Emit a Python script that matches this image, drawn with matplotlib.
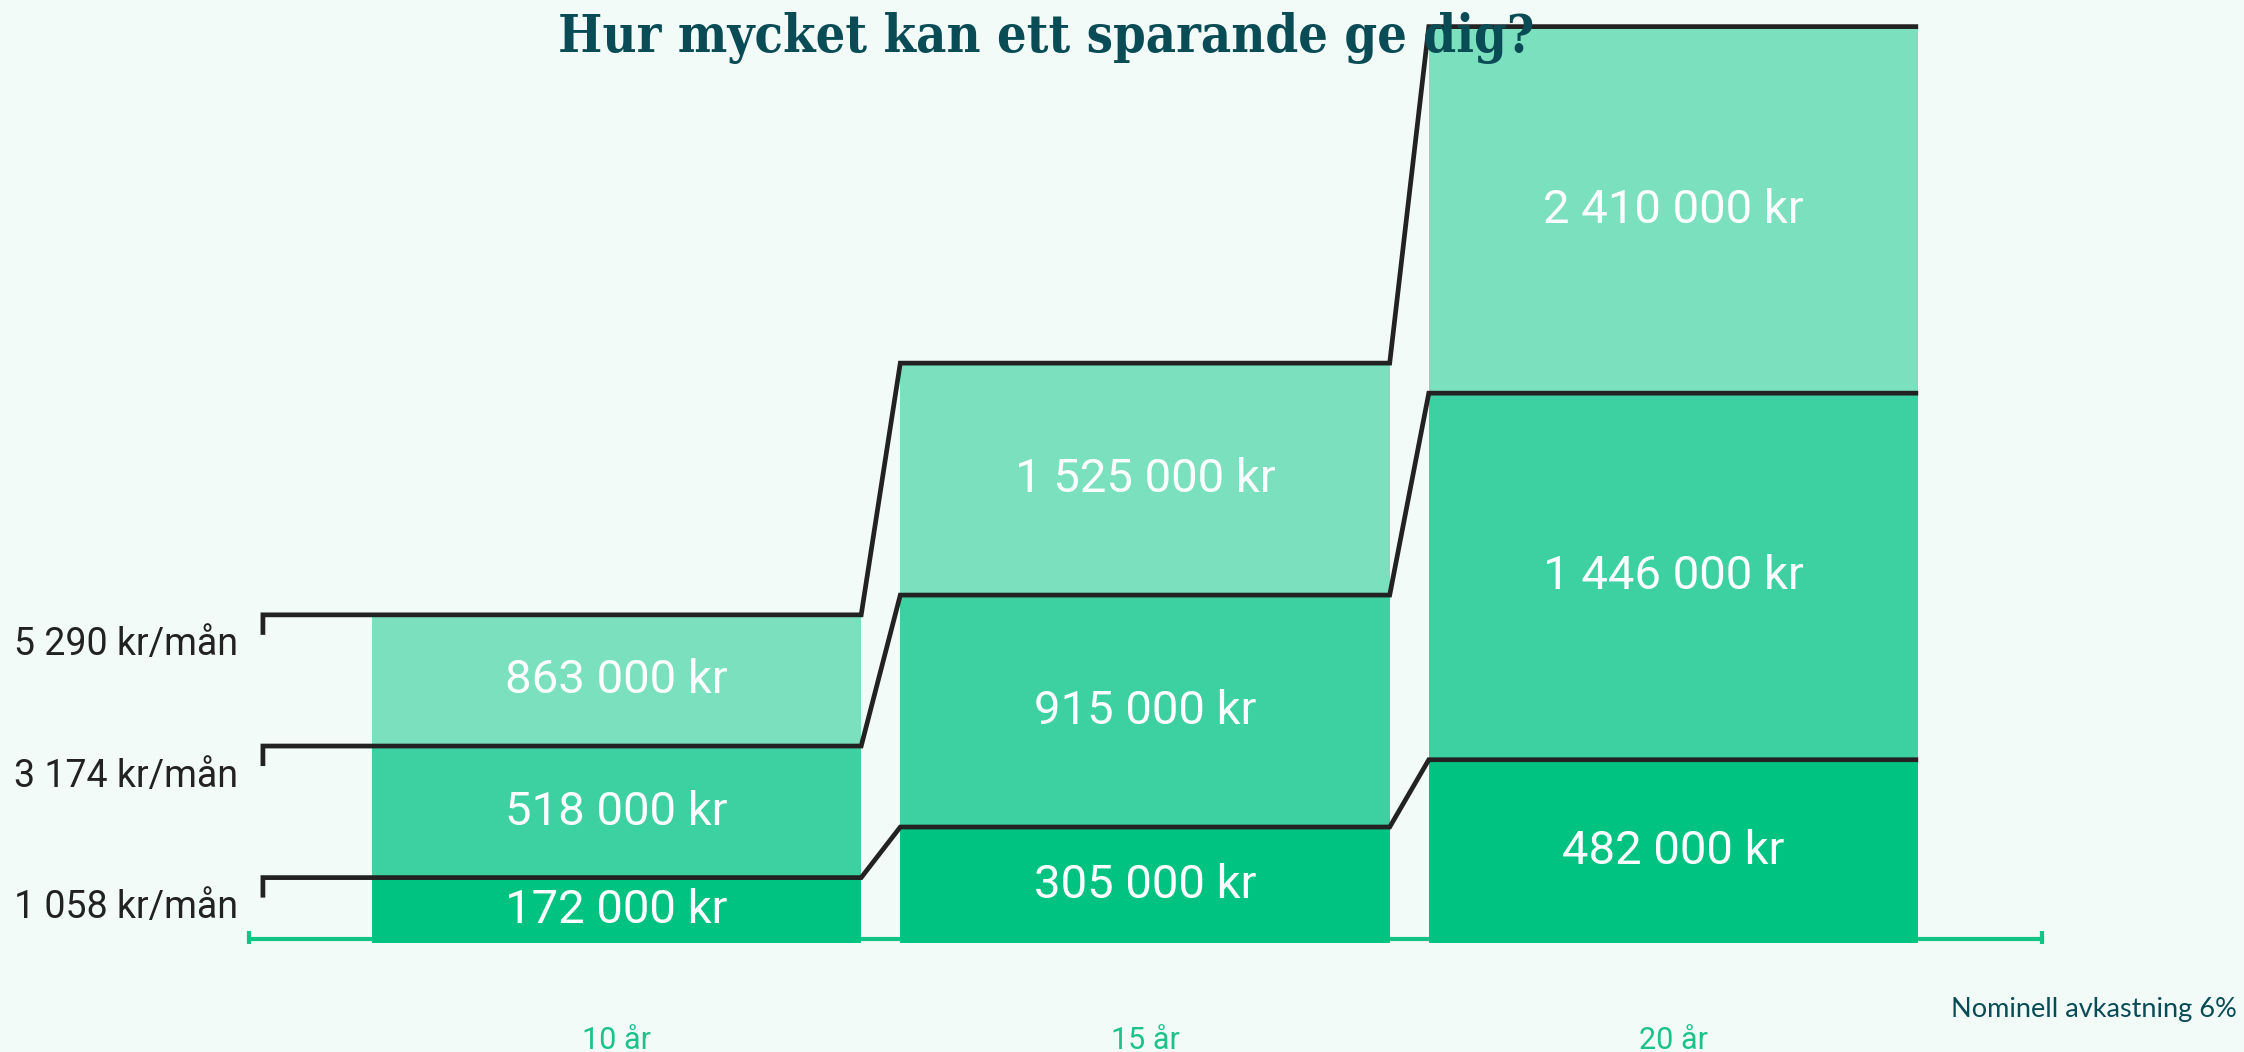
import matplotlib.pyplot as plt
import matplotlib.transforms as mtransforms
import numpy as np

# Данные
years = ['10 år', '15 år', '20 år']
monthly = ['1 058 kr/mån', '3 174 kr/mån', '5 290 kr/mån']
low = [172000, 305000, 482000]
mid = [518000, 915000, 1446000]
high = [863000, 1525000, 2410000]
note = 'Nominell avkastning 6%'
title = 'Hur mycket kan ett sparande ge dig?'

# Цвета
bg = '#f2fbf8'
colors = ['#00c382', '#3dd0a0', '#7be0be']
line_col = '#222222'
teal = '#0a4c55'


def fmt(v):
    return f'{v:,}'.replace(',', ' ') + ' kr'


fig = plt.figure(figsize=(22.44, 10.52), dpi=100, facecolor=bg)
ax = fig.add_axes([0, 109 / 1052, 1, 943 / 1052])
ax.set_facecolor(bg)

x = np.arange(len(years))
width = 0.926
ymax = 2480000
px = ymax / 943  # одна точка экрана в единицах данных

ax.set_xlim(-1.1665, 3.0795)
ax.set_ylim(0, ymax)

# Столбцы: сначала самые высокие, потом ниже поверх
series = [high, mid, low]
for vals, c in zip(series, colors[::-1]):
    ax.bar(x, vals, width=width, color=c, zorder=2)

# Подписи внутри сегментов
for i in range(len(years)):
    bounds = [0, low[i], mid[i], high[i]]
    for j in range(3):
        yc = (bounds[j] + bounds[j + 1]) / 2
        ax.text(x[i], yc, fmt(bounds[j + 1]), color='white', fontsize=34,
                family='Roboto', ha='center', va='center', zorder=5)

# Ступенчатые линии
x_start = x[0] - width / 2 - 0.206
for vals in [low, mid, high]:
    xs = [x_start, x_start]
    ys = [vals[0] - 20 * px, vals[0]]
    for i in range(len(years)):
        xs += [x[i] - width / 2, x[i] + width / 2]
        ys += [vals[i], vals[i]]
    xs[2] = x_start  # горизонталь начинается от засечки
    ax.plot(xs, ys, color=line_col, lw=3.4, solid_joinstyle='miter',
            solid_capstyle='butt', zorder=4)

# Подписи слева (под линией уровня)
label_tf = mtransforms.blended_transform_factory(fig.transFigure, ax.transData)
for lab, vals in zip(monthly, [low, mid, high]):
    ax.text(14 / 2244, vals[0] - 30 * px, lab, transform=label_tf,
            fontsize=27, family='Roboto', color='#222222', ha='left', va='center')

# Зелёная ось
x_axis = [(249 - 616.5) / 528.5, (2042 - 616.5) / 528.5]
ax.plot(x_axis, [4 * px, 4 * px], color='#12c486', lw=3, zorder=1,
        marker='|', markersize=12, markeredgewidth=3)

ax.set_xticks(x, years)
ax.tick_params(axis='x', length=0, pad=60, labelsize=22, labelcolor='#1dc28a')
for t in ax.get_xticklabels():
    t.set_family(['Liberation Sans Narrow', 'Roboto'])
ax.set_yticks([])
for s in ax.spines.values():
    s.set_visible(False)

fig.text(1046 / 2244, 1 - 38 / 1052, title, fontsize=37.5, weight='bold',
         family='DejaVu Serif', fontstretch='condensed', color=teal,
         ha='center', va='center', zorder=10)
fig.text(2237 / 2244, 1 - 1010 / 1052, note, fontsize=19.5, family='Lato',
         color=teal, ha='right', va='center')

fig.savefig('out.png', dpi=100, facecolor=bg)
